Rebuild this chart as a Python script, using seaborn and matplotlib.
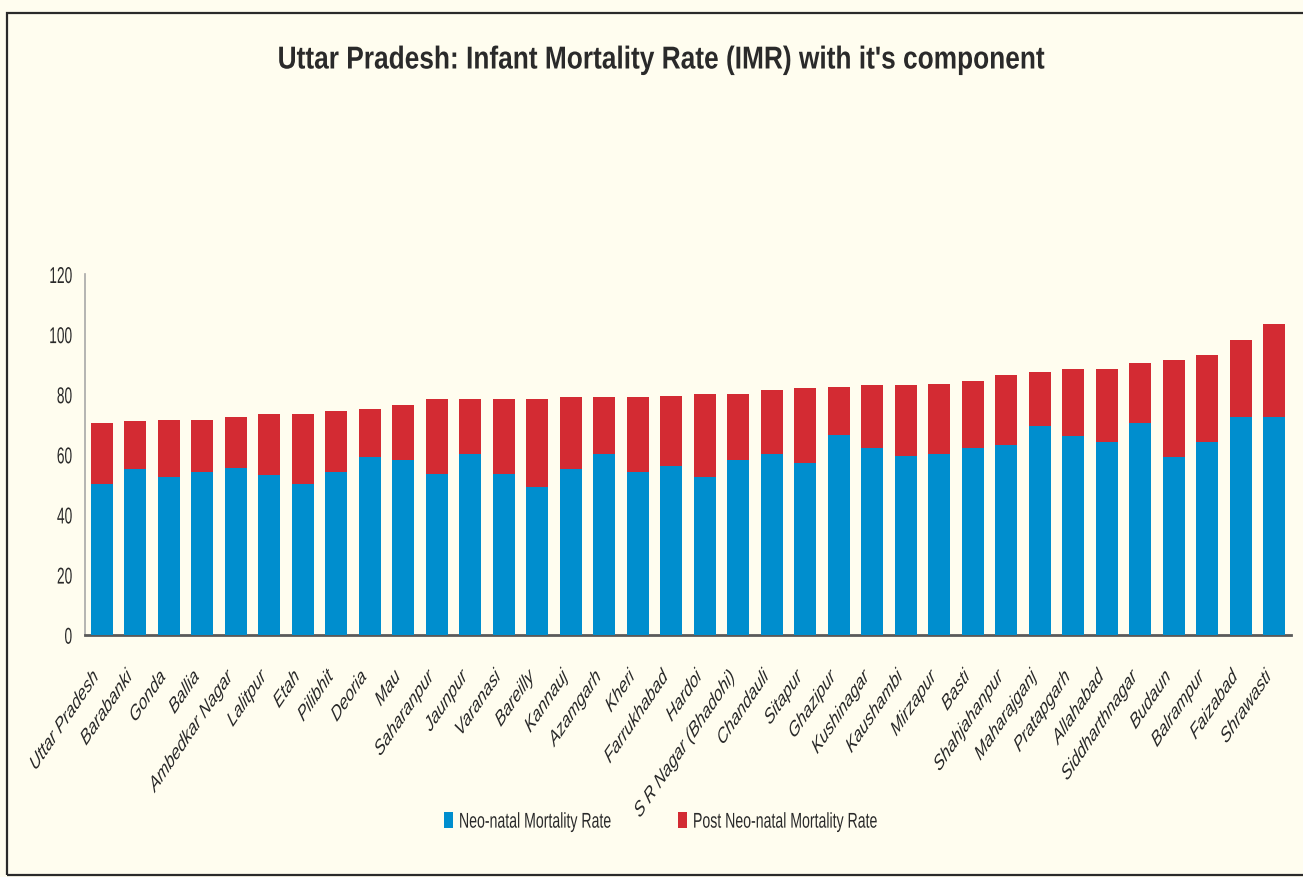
import matplotlib
matplotlib.use("Agg")
import matplotlib.pyplot as plt
from matplotlib.patches import Rectangle, Patch
from matplotlib.patheffects import AbstractPathEffect
from matplotlib.transforms import Affine2D
import seaborn as sns
import pandas as pd

districts = ["Uttar Pradesh", "Barabanki", "Gonda", "Ballia", "Ambedkar Nagar",
             "Lalitpur", "Etah", "Pilibhit", "Deoria", "Mau", "Saharanpur",
             "Jaunpur", "Varanasi", "Bareilly", "Kannauj", "Azamgarh", "Kheri",
             "Farrukhabad", "Hardoi", "S R Nagar (Bhadohi)", "Chandauli", "Sitapur",
             "Ghazipur", "Kushinagar", "Kaushambi", "Mirzapur", "Basti",
             "Shahjahanpur", "Maharajganj", "Pratapgarh", "Allahabad",
             "Siddharthnagar", "Budaun", "Balrampur", "Faizabad", "Shrawasti"]

neo_natal = [50, 55, 52.5, 54, 55.5, 53, 50, 54, 59, 58, 53.5, 60, 53.5, 49, 55,
             60, 54, 56, 52.5, 58, 60, 57, 66.5, 62, 59.5, 60, 62, 63, 69.5, 66,
             64, 70.5, 59, 64, 72.5, 72.5]

post_neo_natal = [20.5, 16, 19, 17.5, 17, 20.5, 23.5, 20.5, 16, 18.5, 25, 18.5,
                  25, 29.5, 24, 19, 25, 23.5, 27.5, 22, 21.5, 25, 16, 21, 23.5,
                  23.5, 22.5, 23.5, 18, 22.5, 24.5, 20, 32.5, 29, 25.5, 31]

series_names = ["Neo-natal Mortality Rate", "Post Neo-natal Mortality Rate"]
y_ticks = [0, 20, 40, 60, 80, 100, 120]

BLUE = "#008ECE"
RED = "#D32B33"
BG = "#FFFDEF"
TXT = "#2A2A2A"


class Condensed(AbstractPathEffect):
    """Reshape a text's glyphs in the text's own frame.

    The glyphs are scaled by ``sx`` along the baseline and optionally sheared
    (``shear`` = x shift per unit of height), keeping one end of the text fixed.
    """

    def __init__(self, sx, anchor="left", shear=0.0):
        super().__init__()
        self.sx = sx
        self.anchor = anchor
        self.shear = shear

    def draw_path(self, renderer, gc, tpath, affine, rgbFace=None):
        ext = tpath.get_extents()
        y0 = 0.0
        if self.anchor == "right":
            x0 = ext.x1
        elif self.anchor == "topright":
            x0, y0 = ext.x1, ext.y1
        elif self.anchor == "center":
            x0 = 0.5 * (ext.x0 + ext.x1)
        else:
            x0 = 0.0
        shape = Affine2D.from_values(self.sx, 0, self.shear, 1, 0, 0)
        local = Affine2D().translate(-x0, -y0) + shape + Affine2D().translate(x0, y0)
        renderer.draw_path(gc, tpath, local + affine, rgbFace)


sns.set_theme(style="white")
plt.rcParams["font.family"] = ["Liberation Sans", "DejaVu Sans"]

df = pd.DataFrame({"district": districts,
                   "nmr": neo_natal,
                   "pnmr": post_neo_natal})
df["imr"] = df["nmr"] + df["pnmr"]

W, H = 1303, 878
fig = plt.figure(figsize=(W / 100, H / 100), dpi=100, facecolor=BG)
ax = fig.add_axes([85 / W, 1 - 635.7 / H, (1291 - 85) / W, (635.7 - 275) / H])
ax.set_facecolor(BG)

# stacked bars: full IMR in red, neo-natal part drawn over it in blue
sns.barplot(data=df, x="district", y="imr", color=RED, width=0.66,
            saturation=1, linewidth=0, ax=ax, zorder=2)
sns.barplot(data=df, x="district", y="nmr", color=BLUE, width=0.66,
            saturation=1, linewidth=0, ax=ax, zorder=3)

ax.set_xlim(-0.5, len(districts) - 0.5)
ax.set_ylim(0, 120)
ax.set_yticks(y_ticks)
ax.set_yticklabels([str(v) for v in y_ticks], fontsize=16.5, color=TXT)
ax.set_xticks(range(len(districts)))
ax.set_xticklabels(districts, rotation=55.8, ha="right", va="baseline",
                   rotation_mode="anchor", fontsize=12.3, style="italic", color=TXT)
ax.tick_params(axis="both", length=0)
ax.tick_params(axis="y", pad=9)
ax.tick_params(axis="x", pad=28)
ax.set_xlabel("")
ax.set_ylabel("")
ax.grid(False)

for lbl in ax.get_yticklabels():
    lbl.set_path_effects([Condensed(0.6, "right")])
for lbl in ax.get_xticklabels():
    lbl.set_path_effects([Condensed(1.075, "topright", shear=0.395)])

for side in ("top", "right"):
    ax.spines[side].set_visible(False)
ax.spines["left"].set_color("#A8A8A8")
ax.spines["left"].set_linewidth(1.2)
ax.spines["bottom"].set_color("#5A5A5A")
ax.spines["bottom"].set_linewidth(2)

title = fig.text(660.5 / W, 1 - 69.5 / H,
                 "Uttar Pradesh: Infant Mortality Rate (IMR) with it's component",
                 ha="center", va="baseline", fontsize=22.8, fontweight="bold",
                 color=TXT)
title.set_path_effects([Condensed(0.83, "center")])

# one single-entry legend per series, each anchored at its marker's left edge
legend_x = [444, 678]
for color, name, lx in zip([BLUE, RED], series_names, legend_x):
    leg = fig.legend([Patch(facecolor=color, edgecolor="none")], [name],
                     loc="center left", bbox_to_anchor=(lx / W, 1 - 823 / H),
                     frameon=False, fontsize=15.4, handlelength=0.42,
                     handleheight=0.75, handletextpad=0.28, borderpad=0,
                     borderaxespad=0, labelcolor=TXT)
    for t in leg.get_texts():
        t.set_path_effects([Condensed(0.66, "left")])

fig.patches.append(Rectangle((7 / W, 2 / H), 1.0, 1 - 16 / H,
                             transform=fig.transFigure, fill=False,
                             edgecolor="#2A2A2A", linewidth=1.6))

fig.savefig("out.png", dpi=100, facecolor=BG)
